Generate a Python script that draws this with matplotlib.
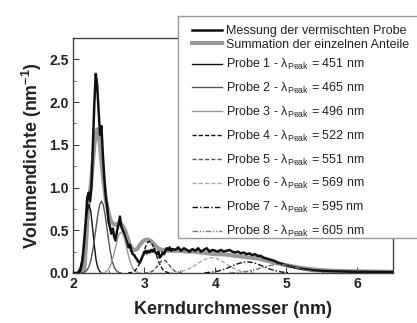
import numpy as np
import matplotlib
matplotlib.use("Agg")
import matplotlib.pyplot as plt
from matplotlib.ticker import MultipleLocator
from matplotlib.patches import Rectangle

plt.rcParams['font.family'] = ['Liberation Sans', 'DejaVu Sans']
plt.rcParams['mathtext.fontset'] = 'custom'
plt.rcParams['mathtext.rm'] = 'Liberation Sans'
plt.rcParams['mathtext.bf'] = 'Liberation Sans:bold'
plt.rcParams['mathtext.it'] = 'Liberation Sans:italic'

# ---------------- data ----------------
# measured mixed sample (noisy), three segments with different sampling
m1_start, m1_step = 2.00, 0.02
m1_y = [0, 0, 0, 0, 0.0, 0.02, 0.08, 0.2, 0.4, 0.62, 0.88, 0.94, 0.84, 1.02, 1.5,
        1.98, 2.33, 2.2, 1.9, 1.62, 1.72, 1.38, 1.12, 0.9, 0.78, 0.6, 0.54, 0.46,
        0.52, 0.42, 0.38, 0.5, 0.56, 0.66, 0.54, 0.5, 0.46, 0.4, 0.36, 0.3, 0.33,
        0.26, 0.22, 0.21, 0.18, 0.16, 0.13, 0.12, 0.16, 0.2, 0.23, 0.26, 0.23, 0.26,
        0.24, 0.27, 0.25, 0.28, 0.24, 0.22, 0.25, 0.18, 0.2, 0.24, 0.22, 0.26, 0.29,
        0.27, 0.3, 0.26, 0.28]
m2_start, m2_step = 3.44, 0.04
m2_y = [0.27, 0.3, 0.26, 0.29, 0.27, 0.25, 0.28, 0.26, 0.29, 0.25, 0.27, 0.29, 0.25,
        0.27, 0.26, 0.25, 0.27, 0.25, 0.26, 0.27, 0.25, 0.24, 0.25, 0.23, 0.24, 0.22,
        0.23, 0.21, 0.22, 0.2, 0.2, 0.18, 0.17, 0.16, 0.15, 0.14, 0.12, 0.11, 0.1, 0.09]
m3_start, m3_step = 5.1, 0.1
m3_y = [0.07, 0.05, 0.04, 0.03, 0.025, 0.022, 0.02, 0.018, 0.016, 0.015, 0.014,
        0.013, 0.012, 0.011, 0.01]

# summation of the individual contributions
s1_start, s1_step = 2.14, 0.02
s1_y = [0, 0.05, 0.3, 0.6, 0.85, 0.95, 1.1, 1.3, 1.5, 1.62, 1.68, 1.62, 1.5, 1.3, 1.15,
        1.0, 0.87, 0.78, 0.7, 0.64, 0.6, 0.58, 0.57, 0.56, 0.57, 0.58, 0.58, 0.57, 0.55,
        0.52, 0.48, 0.43, 0.38, 0.33, 0.3, 0.28, 0.27, 0.27, 0.28, 0.3, 0.33, 0.35, 0.37,
        0.38, 0.39, 0.39, 0.39, 0.38, 0.37, 0.35, 0.34, 0.32, 0.3, 0.29, 0.28, 0.27, 0.27,
        0.27, 0.27, 0.26, 0.26, 0.27, 0.26, 0.26]
s2_start, s2_step = 3.5, 0.1
s2_y = [0.26, 0.25, 0.25, 0.24, 0.23, 0.22, 0.22, 0.21, 0.2, 0.19, 0.18, 0.17, 0.15,
        0.13, 0.11, 0.09, 0.075, 0.06, 0.05, 0.04, 0.033, 0.028, 0.025, 0.022, 0.02,
        0.019, 0.018, 0.017, 0.016, 0.015, 0.014]

# individual samples (start, step, values)
p1_start, p1_step = 2.05, 0.025
p1_y = [0.0, 0.02, 0.06, 0.15, 0.32, 0.53, 0.72, 0.80, 0.72, 0.53, 0.32, 0.15, 0.06, 0.02, 0.0]
p2_start, p2_step = 2.125, 0.025
p2_y = [0, 0.006, 0.016, 0.037, 0.077, 0.145, 0.25, 0.385, 0.54, 0.69, 0.80, 0.84, 0.80,
        0.69, 0.54, 0.385, 0.25, 0.145, 0.077, 0.037, 0.016, 0.006, 0]
p3_start, p3_step = 2.40, 0.025
p3_y = [0, 0.004, 0.009, 0.021, 0.044, 0.083, 0.142, 0.22, 0.31, 0.395, 0.457, 0.48,
        0.457, 0.395, 0.31, 0.22, 0.142, 0.083, 0.044, 0.021, 0.009, 0.004, 0]
p4_start, p4_step = 2.775, 0.025
p4_y = [0.001, 0.003, 0.008, 0.016, 0.031, 0.056, 0.092, 0.141, 0.20, 0.26, 0.317, 0.356,
        0.37, 0.356, 0.317, 0.26, 0.20, 0.141, 0.092, 0.056, 0.031, 0.016, 0.008, 0.003, 0.001]
p5_start, p5_step = 3.0, 0.025
p5_y = [0.0, 0.001, 0.003, 0.007, 0.014, 0.026, 0.044, 0.069, 0.097, 0.123, 0.143, 0.15,
        0.143, 0.123, 0.097, 0.069, 0.044, 0.026, 0.014, 0.007, 0.003, 0.001, 0.0]
p6_start, p6_step = 3.35, 0.05
p6_y = [0.002, 0.004, 0.008, 0.014, 0.024, 0.039, 0.058, 0.082, 0.109, 0.136, 0.159, 0.174,
        0.18, 0.174, 0.159, 0.136, 0.109, 0.082, 0.058, 0.039, 0.024, 0.014, 0.008, 0.004, 0.002]
p7_start, p7_step = 3.85, 0.05
p7_y = [0.003, 0.006, 0.010, 0.016, 0.025, 0.037, 0.051, 0.068, 0.086, 0.103, 0.117, 0.127,
        0.13, 0.127, 0.117, 0.103, 0.086, 0.068, 0.051, 0.037, 0.025, 0.016, 0.010, 0.006, 0.003]
p8_start, p8_step = 4.2, 0.05
p8_y = [0.002, 0.003, 0.006, 0.009, 0.014, 0.020, 0.028, 0.038, 0.049, 0.061, 0.073, 0.084,
        0.092, 0.098, 0.10, 0.098, 0.092, 0.084, 0.073, 0.061, 0.049, 0.038, 0.028, 0.020,
        0.014, 0.009, 0.006, 0.003, 0.002]

peak_nm = [451, 465, 496, 522, 551, 569, 595, 605]
label_meas = 'Messung der vermischten Probe'
label_sum = 'Summation der einzelnen Anteile'
x_label = 'Kerndurchmesser (nm)'
y_label = r'Volumendichte (nm$^{\mathbf{-1}}$)'
x_ticks = [2, 3, 4, 5, 6]
y_ticks = [0.0, 0.5, 1.0, 1.5, 2.0, 2.5]


def grid(start, step, ys):
    return start + step * np.arange(len(ys))


W, H = 417, 323
# ---------------- figure ----------------
fig = plt.figure(figsize=(W / 100, H / 100), dpi=100)
ax = fig.add_axes([73 / W, 1 - 273 / H, (393 - 73) / W, (273 - 38) / H])

mx = np.concatenate([grid(m1_start, m1_step, m1_y), grid(m2_start, m2_step, m2_y),
                     grid(m3_start, m3_step, m3_y)])
my = np.concatenate([m1_y, m2_y, m3_y])
sx = np.concatenate([grid(s1_start, s1_step, s1_y), grid(s2_start, s2_step, s2_y)])
sy = np.concatenate([s1_y, s2_y])

probes = [(p1_start, p1_step, p1_y), (p2_start, p2_step, p2_y), (p3_start, p3_step, p3_y),
          (p4_start, p4_step, p4_y), (p5_start, p5_step, p5_y), (p6_start, p6_step, p6_y),
          (p7_start, p7_step, p7_y), (p8_start, p8_step, p8_y)]
styles = [('#111111', '-'), ('#555555', '-'), ('#999999', '-'),
          ('#111111', (0, (3, 1.5))), ('#555555', (0, (3, 1.5))), ('#aaaaaa', (0, (3, 1.5))),
          ('#111111', (0, (4, 1.5, 1, 1.5))), ('#777777', (0, (4, 1.2, 1, 1.2, 1, 1.2)))]

h_meas, = ax.plot(mx, my, color='#111111', lw=1.8, label=label_meas, zorder=4)
h_sum, = ax.plot(sx, sy, color='#999999', lw=3.0, label=label_sum, zorder=3)
probe_handles = []
for i, ((st, sp, ys), (c, ls)) in enumerate(zip(probes, styles)):
    h, = ax.plot(grid(st, sp, ys), ys, color=c, ls=ls, lw=1.0,
                 label=r'Probe %d - $\mathrm{λ}_{\mathrm{Peak}}$ = %d nm' % (i + 1, peak_nm[i]),
                 zorder=5)
    probe_handles.append(h)

ax.set_xlim(2, 6.5)
ax.set_ylim(0, 2.75)
ax.set_xticks(x_ticks)
ax.set_yticks(y_ticks)
ax.set_yticklabels(['%.1f' % v for v in y_ticks])
ax.xaxis.set_minor_locator(MultipleLocator(0.5))
ax.yaxis.set_minor_locator(MultipleLocator(0.25))
ax.tick_params(which='both', direction='in', color='#444444', labelsize=10, pad=3)
ax.tick_params(which='major', length=4)
ax.tick_params(which='minor', length=2.5)
for lab in ax.get_xticklabels() + ax.get_yticklabels():
    lab.set_fontweight('bold')
    lab.set_color('#222222')
for s in ax.spines.values():
    s.set_color('#444444')
    s.set_linewidth(1.0)

ax.set_xlabel(x_label, fontsize=13, fontweight='bold', color='#222222', labelpad=7)
ax.set_ylabel(y_label, fontsize=12.8, fontweight='bold', color='#222222', labelpad=4)

# legend box (extends past the right edge of the figure as in the reference)
box = Rectangle((178 / W, 1 - 238 / H), (440 - 178) / W, (238 - 16) / H,
                transform=fig.transFigure, facecolor='white', edgecolor='#999999',
                lw=1.0, zorder=10)
fig.add_artist(box)

common = dict(loc='upper left', bbox_transform=fig.transFigure, fontsize=9,
              frameon=False, handlelength=2.4, handletextpad=0.35,
              borderpad=0, borderaxespad=0)
leg1 = fig.legend(handles=[h_meas, h_sum], bbox_to_anchor=(192 / W, 1 - 25 / H),
                  labelspacing=0.12, **common)
leg2 = fig.legend(handles=probe_handles, bbox_to_anchor=(192 / W, 1 - 57 / H),
                  labelspacing=0.7, **common)
for leg in (leg1, leg2):
    leg.set_zorder(11)
    for t in leg.get_texts():
        t.set_color('#222222')

fig.savefig('out.png', dpi=100)
